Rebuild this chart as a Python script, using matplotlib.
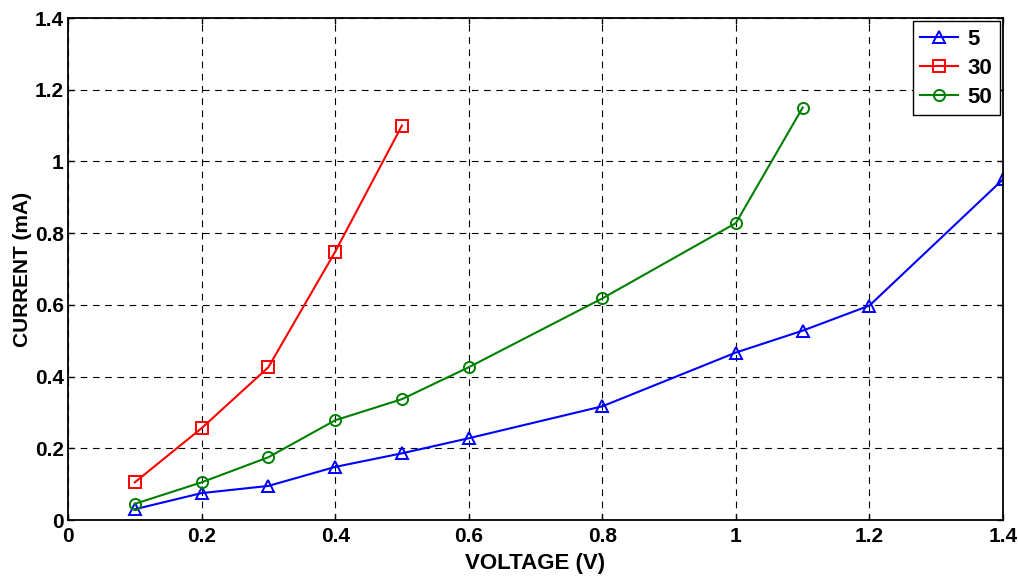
import matplotlib
matplotlib.use("Agg")
import matplotlib.pyplot as plt

x5 = [0.1, 0.2, 0.3, 0.4, 0.5, 0.6, 0.8, 1.0, 1.1, 1.2, 1.4]
y5 = [0.03, 0.075, 0.095, 0.148, 0.186, 0.228, 0.317, 0.467, 0.528, 0.598, 0.95]
x30 = [0.1, 0.2, 0.3, 0.4, 0.5]
y30 = [0.105, 0.256, 0.426, 0.748, 1.1]
x50 = [0.1, 0.2, 0.3, 0.4, 0.5, 0.6, 0.8, 1.0, 1.1]
y50 = [0.045, 0.105, 0.175, 0.278, 0.337, 0.426, 0.618, 0.828, 1.15]

ticks = [0, 0.2, 0.4, 0.6, 0.8, 1.0, 1.2, 1.4]
tick_labels = ['0', '0.2', '0.4', '0.6', '0.8', '1', '1.2', '1.4']

plt.rcParams['font.family'] = ['Liberation Sans', 'DejaVu Sans']

fig = plt.figure(figsize=(10.18, 5.85), dpi=100)
ax = fig.add_axes([68/1018, 65/585, 935/1018, 502/585])

ax.plot(x5, y5, color='blue', marker='^', mfc='none', mec='blue', ms=8, mew=1.4, lw=1.5, label='5')
ax.plot(x30, y30, color='red', marker='s', mfc='none', mec='red', ms=8, mew=1.4, lw=1.5, label='30')
ax.plot(x50, y50, color='green', marker='o', mfc='none', mec='green', ms=8, mew=1.4, lw=1.5, label='50')

ax.set_xlim(0, 1.4)
ax.set_ylim(0, 1.4)
ax.set_xticks(ticks)
ax.set_xticklabels(tick_labels, fontweight='bold', fontsize=15)
ax.set_yticks(ticks)
ax.set_yticklabels(tick_labels, fontweight='bold', fontsize=15)
ax.tick_params(direction='in', length=4, width=1, top=True, right=True)
ax.tick_params(axis='x', pad=5)
ax.tick_params(axis='y', pad=3)
ax.grid(True, color='black', linestyle=(0, (6, 5)), linewidth=0.8)
for s in ax.spines.values():
    s.set_linewidth(1.3)

ax.set_xlabel('VOLTAGE (V)', fontweight='bold', fontsize=16, labelpad=5)
ax.set_ylabel('CURRENT (mA)', fontweight='bold', fontsize=15, labelpad=2)

leg = ax.legend(loc='upper right', prop={'weight': 'bold', 'size': 16}, fancybox=False,
                edgecolor='black', framealpha=1, borderaxespad=0.15, handlelength=1.7,
                labelspacing=0.35, handletextpad=0.4, borderpad=0.35)
leg.get_frame().set_linewidth(1.0)

fig.savefig('out.png', dpi=100)
